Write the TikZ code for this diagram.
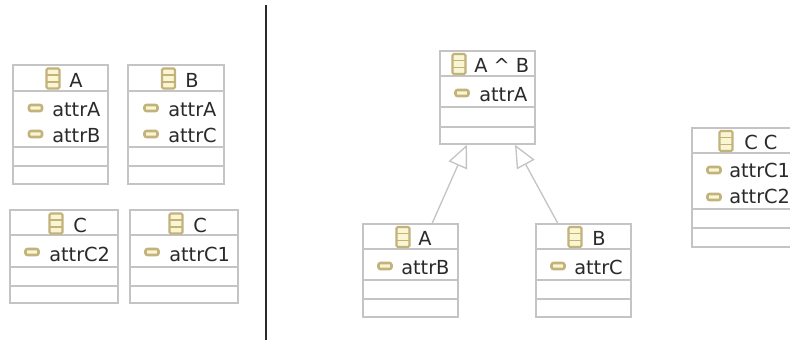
\documentclass[tikz,border=0pt]{standalone}
\usepackage{fontspec}
\setmainfont{DejaVu Sans}
\usepackage{xcolor}
\definecolor{c0c0c0}{HTML}{c4c4c4}
\definecolor{iconedge}{HTML}{c2b27c}
\definecolor{iconfill}{HTML}{fbf6d2}
\definecolor{textgrey}{HTML}{2a2a2a}
\usetikzlibrary{arrows.meta}

\tikzset{
    classbox/.style={draw=c0c0c0, line width=1.1pt, fill=white, anchor=north west, inner sep=0, outer sep=0},
    classline/.style={draw=c0c0c0, line width=1.1pt},
    label text/.style={anchor=base west, inner sep=0, text=textgrey, font=\fontsize{14.5}{17}\selectfont},
    generalize/.style={draw=c0c0c0, line width=1pt, -{Triangle[open, fill=white, length=17pt, width=15pt]}},
    classicon/.pic={
        \draw[iconedge, fill=iconfill, line width=1.6pt, rounded corners=1pt] (-6.5, -10) rectangle (6.5, 10);
        \draw[iconedge, line width=1.4pt] (-6.5, -3.5) -- (6.5, -3.5) (-6.5, 3.5) -- (6.5, 3.5);
    },
    attricon/.pic={
        \draw[iconedge, fill=iconfill, line width=1.9pt, rounded corners=1.5pt] (-6.5, -3) rectangle (6.5, 3);
    }
}

% #1 name, #2 left, #3 top, #4 width, #5 height, #6-#8 compartment lines
\newcommand{\umlclass}[8]{
    \node[classbox, minimum width=#4*0.75pt, minimum height=#5*0.75pt] (#1) at (#2, #3) {};
    \draw[classline] (#1.west |- 0,#6) -- (#1.east |- 0,#6);
    \draw[classline] (#1.west |- 0,#7) -- (#1.east |- 0,#7);
    \draw[classline] (#1.west |- 0,#8) -- (#1.east |- 0,#8);
}

\begin{document}
\begin{tikzpicture}[x=0.75pt, y=-0.75pt]
    \useasboundingbox (0, 0) rectangle (790, 340);

    \draw[line width=1.5pt, textgrey] (266, 5) -- (266, 340);

    \umlclass{leftA}{13}{65}{95}{119}{91}{147}{166}
    \pic at (53, 78.5) {classicon};
    \node[label text] (leftAname) at (69, 87) {A};
    \pic at (35.5, 108) {attricon};
    \node[label text] (leftAattrA) at (52, 116) {attrA};
    \pic at (35.5, 134) {attricon};
    \node[label text] (leftAattrB) at (52, 142) {attrB};

    \umlclass{leftB}{128}{65}{96}{119}{91}{147}{166}
    \pic at (168.5, 78.5) {classicon};
    \node[label text] (leftBname) at (185, 87) {B};
    \pic at (151, 108) {attricon};
    \node[label text] (leftBattrA) at (168, 116) {attrA};
    \pic at (151, 134) {attricon};
    \node[label text] (leftBattrC) at (168, 142) {attrC};

    \umlclass{leftCtwo}{10}{210}{108}{93}{235}{267}{286}
    \pic at (56, 223.5) {classicon};
    \node[label text] (leftCtwoname) at (73, 232) {C};
    \pic at (32, 252) {attricon};
    \node[label text] (leftCtwoattr) at (49, 261) {attrC2};

    \umlclass{leftCone}{130}{210}{108}{93}{235}{267}{286}
    \pic at (176, 223.5) {classicon};
    \node[label text] (leftConename) at (193, 232) {C};
    \pic at (152, 252) {attricon};
    \node[label text] (leftConeattr) at (169, 261) {attrC1};

    \umlclass{superAB}{440}{51}{95}{93}{76}{107}{127}
    \pic at (459, 64) {classicon};
    \node[label text] (superABname) at (474, 72) {A \textasciicircum\ B};
    \pic at (462, 93) {attricon};
    \node[label text] (superABattr) at (479, 101) {attrA};

    \umlclass{subA}{363}{224}{95}{93}{249}{280}{299}
    \pic at (403, 237) {classicon};
    \node[label text] (subAname) at (418, 245) {A};
    \pic at (385, 266) {attricon};
    \node[label text] (subAattr) at (401, 274) {attrB};

    \umlclass{subB}{536}{224}{95}{93}{249}{280}{299}
    \pic at (575, 237) {classicon};
    \node[label text] (subBname) at (592, 245) {B};
    \pic at (558, 266) {attricon};
    \node[label text] (subBattr) at (574, 274) {attrC};

    \umlclass{joinC}{692}{128}{110}{119}{153}{209}{228}
    \pic at (726, 141) {classicon};
    \node[label text] (joinCname) at (744, 149) {C C};
    \pic at (714, 170) {attricon};
    \node[label text] (joinCattrA) at (729, 177) {attrC1};
    \pic at (714, 197) {attricon};
    \node[label text] (joinCattrB) at (729, 203) {attrC2};

    \draw[generalize] ([xshift=16pt]subA.north) -- ([xshift=-15.4pt, yshift=-0.5pt]superAB.south);
    \draw[generalize] ([xshift=-19pt]subB.north) -- ([xshift=20.6pt, yshift=-0.5pt]superAB.south);
\end{tikzpicture}
\end{document}
